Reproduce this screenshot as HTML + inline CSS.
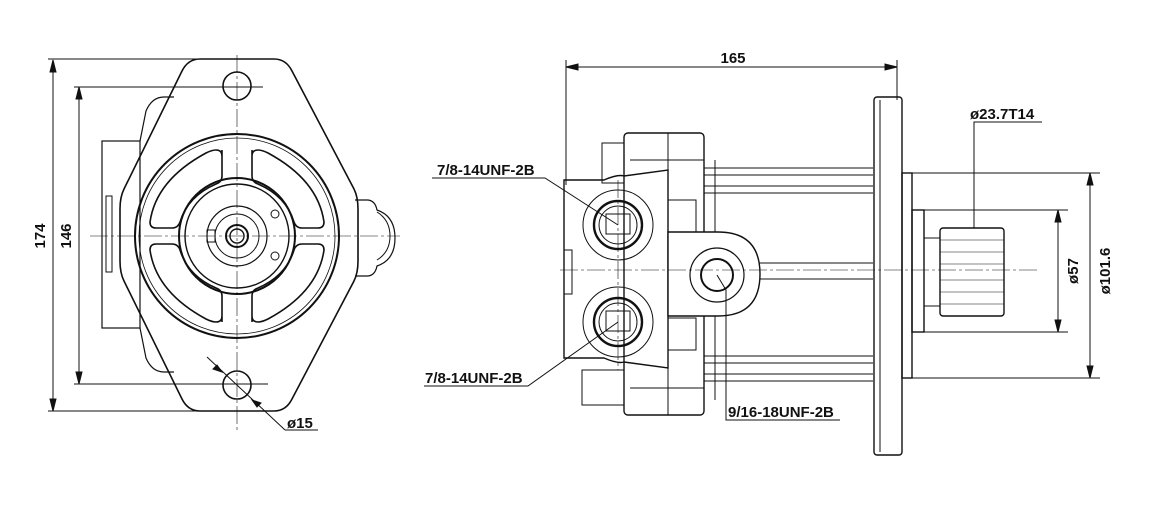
<!DOCTYPE html>
<html><head><style>
html,body{margin:0;padding:0;background:#fff;}
svg{display:block;}
text{font-family:"Liberation Sans",sans-serif;font-weight:bold;font-size:15px;fill:#111;}
</style></head><body>
<svg width="1171" height="529" viewBox="0 0 1171 529" xmlns="http://www.w3.org/2000/svg">
<g stroke="#111" fill="none" stroke-width="1">
<!-- LEFT VIEW dims -->
<line x1="48" y1="59" x2="270" y2="59"/>
<line x1="48" y1="411" x2="270" y2="411"/>
<line x1="53" y1="60" x2="53" y2="411"/>
<path d="M53 60 l-3 12 h6z M53 411 l-3 -12 h6z" fill="#111"/>
<line x1="74" y1="87" x2="263" y2="87"/>
<line x1="74" y1="384" x2="268" y2="384"/>
<line x1="79" y1="87" x2="79" y2="384"/>
<path d="M79 87 l-3 12 h6z M79 384 l-3 -12 h6z" fill="#111"/>
<!-- left box -->
<rect x="102" y="141" width="38" height="187" stroke-width="1.2"/>
<path d="M140 141 l6 -30 q6 -14 18 -14 l10 0" stroke-width="1.2"/>
<path d="M140 328 l6 30 q6 14 18 14 l10 0" stroke-width="1.2"/>
<rect x="106" y="196" width="6" height="76"/>
<!-- right bump -->
<path d="M355 200 h12 q8 0 10 10 q18 6 18 28 q0 22 -18 28 q-2 10 -10 10 h-12" stroke-width="1.2"/>
<path d="M377 212 q13 8 13 24 q0 16 -13 24"/>
<!-- flange -->
<path d="M200 59 h74 q12 0 18 12 l62 118 q4 8 4 20 v52 q0 12 -4 20 l-62 118 q-6 12 -18 12 h-74 q-12 0 -18 -12 l-58 -118 q-4 -8 -4 -20 v-52 q0 -12 4 -20 l58 -118 q6 -12 18 -12z" stroke-width="1.6"/>
<circle cx="237" cy="86" r="14" stroke-width="1.6"/>
<circle cx="237" cy="385" r="14" stroke-width="1.6"/>
<circle cx="237" cy="236" r="102" stroke-width="2"/>
<circle cx="237" cy="236" r="98" stroke-width="0.8"/>
<circle cx="237" cy="236" r="58" stroke-width="2"/>
<circle cx="237" cy="236" r="52" stroke-width="1.4"/>
<circle cx="237" cy="236" r="30" stroke-width="1.2"/>
<circle cx="237" cy="236" r="22" stroke-width="1"/>
<circle cx="237" cy="236" r="11" stroke-width="2"/>
<circle cx="237" cy="236" r="7" stroke-width="1.4"/>
<rect x="207" y="230" width="8" height="12"/>
<circle cx="275" cy="214" r="4"/><circle cx="275" cy="256" r="4"/>
<!-- kidney slots -->
<g stroke-width="1.6">
<path d="M222 150 v26 q0 6 -6 8 q-28 12 -36 38 q-2 6 -8 6 h-16 q-6 0 -6 -6 q6 -42 56 -69 q6 -3 10 -3 q6 0 6 6z"/>
<path d="M252 150 v26 q0 6 6 8 q28 12 36 38 q2 6 8 6 h16 q6 0 6 -6 q-6 -42 -56 -69 q-6 -3 -10 -3 q-6 0 -6 6z"/>
<path d="M222 322 v-26 q0 -6 -6 -8 q-28 -12 -36 -38 q-2 -6 -8 -6 h-16 q-6 0 -6 6 q6 42 56 69 q6 3 10 3 q6 0 6 -6z"/>
<path d="M252 322 v-26 q0 -6 6 -8 q28 -12 36 -38 q2 -6 8 -6 h16 q6 0 6 6 q-6 42 -56 69 q-6 3 -10 3 q-6 0 -6 -6z"/>
</g>
<!-- center lines -->
<g stroke-width="0.6" stroke-dasharray="18 3 3 3">
<line x1="237" y1="55" x2="237" y2="430"/>
<line x1="90" y1="236" x2="400" y2="236"/>
</g>
<!-- ø15 leader -->
<line x1="207" y1="357" x2="285" y2="430"/>
<line x1="285" y1="430" x2="318" y2="430"/>
<path d="M222 372 l-9 -3 l4 -4z M252 400 l9 3 l-4 4z" fill="#111"/>

<!-- RIGHT VIEW -->
<line x1="566" y1="60" x2="566" y2="185"/>
<line x1="897" y1="60" x2="897" y2="100"/>
<line x1="566" y1="67" x2="897" y2="67"/>
<path d="M566 67 l12 -3 v6z M897 67 l-12 -3 v6z" fill="#111"/>
<!-- housing -->
<rect x="624" y="133" width="80" height="282" rx="4" stroke-width="1.4"/>
<line x1="668" y1="133" x2="668" y2="415"/>
<line x1="630" y1="160" x2="704" y2="160"/><line x1="630" y1="388" x2="704" y2="388"/>
<rect x="602" y="143" width="22" height="40"/>
<rect x="582" y="370" width="42" height="35"/>
<!-- left block -->
<path d="M564 180 h40 q14 -6 20 -4 l44 -6 v198 l-44 -6 q-6 2 -20 -4 h-40z" stroke-width="1.4"/>
<rect x="564" y="250" width="8" height="44"/>
<!-- rods -->
<g stroke-width="1">
<path d="M704 168 H873 M704 175 H873 M704 186 H873 M704 193 H873"/>
<path d="M745 263 H873 M745 279 H873"/>
<path d="M704 356 H873 M704 363 H873 M704 374 H873 M704 381 H873"/>
<line x1="715" y1="160" x2="715" y2="400"/>
</g>
<rect x="668" y="200" width="28" height="32"/><rect x="668" y="318" width="28" height="32"/>
<!-- lug -->
<path d="M668 232 h50 q42 0 42 42 q0 42 -42 42 h-50z" stroke-width="1.4" fill="#fff"/>
<circle cx="717" cy="275" r="27" stroke-width="1.2"/>
<circle cx="717" cy="275" r="16" stroke-width="2"/>
<!-- ports -->
<g>
<circle cx="618" cy="225" r="35"/><circle cx="618" cy="225" r="24" stroke-width="2.4"/><circle cx="618" cy="225" r="19"/>
<rect x="606" y="214" width="24" height="20"/>
<circle cx="618" cy="322" r="35"/><circle cx="618" cy="322" r="24" stroke-width="2.4"/><circle cx="618" cy="322" r="19"/>
<rect x="606" y="311" width="24" height="20"/>
</g>
<!-- flange -->
<rect x="874" y="97" width="28" height="358" rx="3" stroke-width="1.4"/>
<line x1="880" y1="100" x2="880" y2="452"/>
<!-- shaft -->
<rect x="902" y="173" width="10" height="205" stroke-width="1.4"/>
<line x1="912" y1="173" x2="1100" y2="173"/>
<line x1="912" y1="378" x2="1100" y2="378"/>
<rect x="912" y="210" width="12" height="122" stroke-width="1.4"/>
<line x1="924" y1="210" x2="1068" y2="210"/>
<line x1="924" y1="332" x2="1068" y2="332"/>
<rect x="924" y="238" width="16" height="68"/>
<rect x="940" y="228" width="64" height="88" rx="3" stroke-width="1.4"/>
<path d="M940 240 H1004 M940 252 H1004 M940 264 H1004 M940 280 H1004 M940 292 H1004 M940 304 H1004" stroke-width="0.6"/>
<!-- dims -->
<line x1="1090" y1="173" x2="1090" y2="378"/>
<path d="M1090 173 l-3 12 h6z M1090 378 l-3 -12 h6z" fill="#111"/>
<line x1="1058" y1="210" x2="1058" y2="332"/>
<path d="M1058 210 l-3 12 h6z M1058 332 l-3 -12 h6z" fill="#111"/>
<!-- center line -->
<line x1="560" y1="270" x2="1040" y2="270" stroke-width="0.6" stroke-dasharray="18 3 3 3"/>
<line x1="618" y1="180" x2="618" y2="370" stroke-width="0.6" stroke-dasharray="18 3 3 3"/>
<!-- leaders -->
<polyline points="432,178 545,178 618,225"/>
<polyline points="424,386 528,386 618,322"/>
<polyline points="717,275 726,290 726,420 840,420"/>
<polyline points="974,228 974,122 1042,122"/>
</g>
<text x="45" y="236" text-anchor="middle" transform="rotate(-90 45 236)">174</text>
<text x="71" y="236" text-anchor="middle" transform="rotate(-90 71 236)">146</text>
<text x="287" y="428">ø15</text>
<text x="733" y="63" text-anchor="middle">165</text>
<text x="437" y="175">7/8-14UNF-2B</text>
<text x="425" y="383">7/8-14UNF-2B</text>
<text x="728" y="417">9/16-18UNF-2B</text>
<text x="970" y="119">ø23.7T14</text>
<text x="1078" y="271" text-anchor="middle" transform="rotate(-90 1078 271)">ø57</text>
<text x="1110" y="271" text-anchor="middle" transform="rotate(-90 1110 271)">ø101.6</text>
</svg>
</body></html>
